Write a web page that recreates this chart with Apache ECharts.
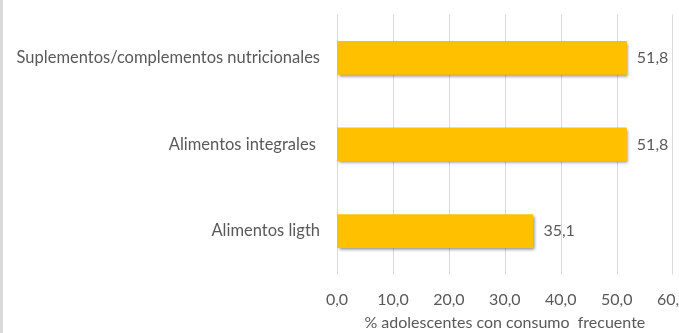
<!DOCTYPE html>
<html><head><meta charset="utf-8">
<script src="https://cdn.jsdelivr.net/npm/echarts@6/dist/echarts.min.js"></script>
<style>html,body{margin:0;padding:0;background:#fff;}#c{width:679px;height:333px;}
#b{position:absolute;left:0;top:0;width:3px;height:333px;background:#d9d9d9;}</style>
</head><body><div id="c"></div><div id="b"></div>
<script>
const categories = ["Suplementos/complementos nutricionales", "Alimentos integrales ", "Alimentos ligth"];
const values = [51.8, 51.8, 35.1];
const xTicks = { min: 0, max: 60, interval: 10 };
const xTitle = "% adolescentes con consumo  frecuente";
const fmt = v => Number(v).toFixed(1).replace('.', ',');
const chart = echarts.init(document.getElementById('c'));
chart.setOption({
  animation: false,
  textStyle: { fontFamily: 'Lato' },
  grid: { left: 337, right: 6.3, top: 14.5, bottom: 58.5, containLabel: false, outerBoundsMode: 'none' },
  xAxis: {
    type: 'value', min: xTicks.min, max: xTicks.max, interval: xTicks.interval,
    axisLine: { show: false }, axisTick: { show: false },
    splitLine: { lineStyle: { color: '#d9d9d9', width: 1 } },
    axisLabel: { formatter: fmt, color: '#595959', fontSize: 16, margin: 17, fontFamily: 'Lato' },
    name: xTitle, nameLocation: 'middle', nameGap: 40,
    nameTextStyle: { color: '#595959', fontSize: 16, fontFamily: 'Lato' }
  },
  yAxis: {
    type: 'category', data: categories, inverse: true,
    axisLine: { show: false }, axisTick: { show: false },
    axisLabel: { color: '#595959', fontSize: 16.5, margin: 17, fontFamily: 'Lato' }
  },
  series: [{
    type: 'bar', data: values, barCategoryGap: '61%',
    itemStyle: { color: '#FFC000', shadowColor: 'rgba(0,0,0,0.45)', shadowBlur: 3, shadowOffsetX: 1.5, shadowOffsetY: 2 },
    label: { show: true, position: 'right', distance: 10, formatter: p => fmt(p.value), color: '#595959', fontSize: 16, fontFamily: 'Lato' }
  }]
});
</script></body></html>
